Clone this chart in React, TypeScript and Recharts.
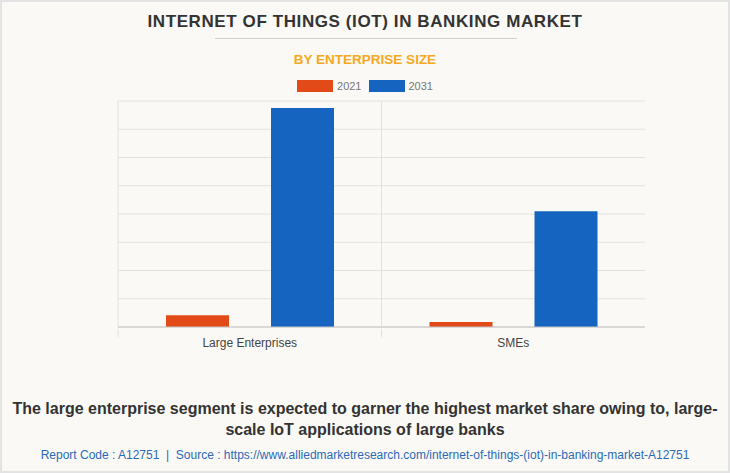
import React from "react";
import { Bar, BarChart, CartesianGrid, XAxis, YAxis } from "recharts";

const categories = ["Large Enterprises", "SMEs"];
const seriesNames = ["2021", "2031"];
const values2021 = [0.42, 0.18];
const values2031 = [7.75, 4.1];
const yTicks = [0, 1, 2, 3, 4, 5, 6, 7, 8];

const data = categories.map((name, i) => ({ name, y2021: values2021[i], y2031: values2031[i] }));

const FONT = "'Liberation Sans', Arial, sans-serif";
const ORANGE = "#e24a17";
const BLUE = "#1565c0";
const COLORS = [ORANGE, BLUE];
const PLOT_LEFT = 118;
const PLOT_RIGHT = 85;
const PLOT_WIDTH = 730 - PLOT_LEFT - PLOT_RIGHT;
const BAND = PLOT_WIDTH / categories.length;

if (typeof document !== "undefined") document.body.style.margin = "0";

function CategoryTick(props: any) {
  const { x, y, payload } = props;
  const left = x - BAND / 2;
  return (
    <g>
      <line x1={left} y1={y} x2={left} y2={y + 8} stroke="#e2e2de" />
      <text x={x} y={y + 18} textAnchor="middle" fontSize={12} fill="#444" fontFamily={FONT}>
        {payload.value}
      </text>
    </g>
  );
}

export default function App() {
  return (
    <div
      style={{
        position: "relative",
        width: 730,
        height: 473,
        boxSizing: "border-box",
        border: "2px solid #e3e3e3",
        background: "#faf9f5",
        fontFamily: FONT,
        overflow: "hidden"
      }}
    >
      <div style={{ position: "absolute", top: 10, left: 0, width: 726, textAlign: "center", fontSize: 17, fontWeight: 700, color: "#333", letterSpacing: 0.6 }}>
        INTERNET OF THINGS (IOT) IN BANKING MARKET
      </div>
      <div style={{ position: "absolute", top: 36, left: 213, width: 302, height: 1, background: "#cfcfcf" }} />
      <div style={{ position: "absolute", top: 50, left: 0, width: 726, textAlign: "center", fontSize: 13.5, fontWeight: 700, color: "#f7a823" }}>
        BY ENTERPRISE SIZE
      </div>
      <div style={{ position: "absolute", top: 78, left: 0, width: 726, display: "flex", justifyContent: "center", gap: 7, fontSize: 11, color: "#777" }}>
        {seriesNames.map((s, i) => (
          <div key={s} style={{ display: "flex", alignItems: "center", gap: 4 }}>
            <span style={{ width: 36, height: 12, background: COLORS[i], display: "inline-block" }} />
            <span>{s}</span>
          </div>
        ))}
      </div>
      <div style={{ position: "absolute", top: -2, left: -2 }}>
        <BarChart width={730} height={360} data={data} margin={{ top: 101, left: PLOT_LEFT, right: PLOT_RIGHT, bottom: 3 }} barSize={63} barGap={42}>
          <CartesianGrid
            stroke="#e2e2de"
            verticalCoordinatesGenerator={({ offset }: any) => [offset.left, offset.left + offset.width / 2]}
          />
          <YAxis hide domain={[0, 8]} ticks={yTicks} />
          <XAxis dataKey="name" height={30} axisLine={{ stroke: "#c4c4c4" }} tickLine={false} tickSize={0} tick={<CategoryTick />} interval={0} />
          <Bar dataKey="y2021" name={seriesNames[0]} fill={ORANGE} isAnimationActive={false} />
          <Bar dataKey="y2031" name={seriesNames[1]} fill={BLUE} isAnimationActive={false} />
        </BarChart>
      </div>
      <div style={{ position: "absolute", top: 396, left: 0, width: 726, textAlign: "center", fontSize: 16, fontWeight: 700, color: "#333", lineHeight: "21px" }}>
        The large enterprise segment is expected to garner the highest market share owing to, large-
        <br />
        scale IoT applications of large banks
      </div>
      <div style={{ position: "absolute", top: 446, left: 0, width: 726, textAlign: "center", fontSize: 12, color: "#2a6ab8" }}>
        Report Code : A12751&nbsp; |&nbsp; Source : https://www.alliedmarketresearch.com/internet-of-things-(iot)-in-banking-market-A12751
      </div>
    </div>
  );
}
